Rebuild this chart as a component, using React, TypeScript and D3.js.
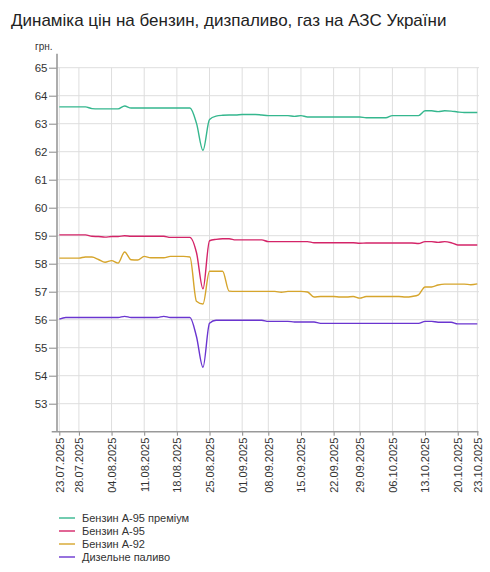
import { useEffect, useRef } from "react";
import * as d3 from "d3";

// Trading days (dd.mm), year 2025
const dates = [
  "23.07", "24.07", "25.07", "28.07", "29.07", "30.07", "31.07", "01.08",
  "04.08", "05.08", "06.08", "07.08", "08.08", "11.08", "12.08", "13.08",
  "14.08", "15.08", "18.08", "19.08", "20.08", "21.08", "22.08", "25.08",
  "26.08", "27.08", "28.08", "29.08", "01.09", "02.09", "03.09", "04.09",
  "08.09", "09.09", "10.09", "11.09", "12.09", "15.09", "16.09", "17.09",
  "18.09", "19.09", "22.09", "23.09", "24.09", "25.09", "29.09", "30.09",
  "01.10", "02.10", "03.10", "06.10", "07.10", "08.10", "09.10", "10.10",
  "13.10", "14.10", "15.10", "16.10", "17.10", "20.10", "21.10", "22.10",
  "23.10",
];

const tickDates = [
  "23.07", "28.07", "04.08", "11.08", "18.08", "25.08", "01.09", "08.09",
  "15.09", "22.09", "29.09", "06.10", "13.10", "20.10", "23.10",
];

const yTicks = [53, 54, 55, 56, 57, 58, 59, 60, 61, 62, 63, 64, 65];

const a95premium = [
  63.6, 63.6, 63.6, 63.6, 63.6, 63.54, 63.53, 63.53, 63.53, 63.53, 63.63, 63.56,
  63.56, 63.56, 63.56, 63.56, 63.56, 63.56, 63.56, 63.56, 63.56, 63.02, 62.05,
  63.15, 63.27, 63.3, 63.31, 63.31, 63.33, 63.33, 63.33, 63.31, 63.29, 63.29,
  63.29, 63.29, 63.26, 63.29, 63.24, 63.24, 63.24, 63.24, 63.24, 63.24, 63.24,
  63.24, 63.24, 63.21, 63.21, 63.21, 63.21, 63.29, 63.29, 63.29, 63.29, 63.29,
  63.46, 63.46, 63.43, 63.46, 63.45, 63.42, 63.4, 63.4, 63.4,
];

const a95 = [
  59.03, 59.03, 59.03, 59.03, 59.03, 58.98, 58.97, 58.95, 58.97, 58.97, 59.0,
  58.98, 58.98, 58.98, 58.98, 58.98, 58.98, 58.94, 58.94, 58.94, 58.94, 58.4,
  57.1, 58.82, 58.87, 58.89, 58.89, 58.85, 58.85, 58.85, 58.85, 58.85, 58.79,
  58.79, 58.79, 58.79, 58.79, 58.79, 58.79, 58.75, 58.75, 58.75, 58.75, 58.75,
  58.75, 58.75, 58.73, 58.74, 58.74, 58.74, 58.74, 58.74, 58.74, 58.74, 58.74,
  58.72, 58.79, 58.79, 58.76, 58.79, 58.75, 58.67, 58.67, 58.67, 58.67,
];

const a92 = [
  58.2, 58.2, 58.2, 58.2, 58.24, 58.24, 58.15, 58.05, 58.11, 58.02, 58.42, 58.14,
  58.13, 58.26, 58.21, 58.21, 58.21, 58.26, 58.26, 58.26, 58.24, 56.66, 56.56,
  57.73, 57.73, 57.73, 57.02, 57.01, 57.01, 57.01, 57.01, 57.01, 57.01, 57.01,
  56.98, 57.01, 57.01, 57.01, 56.99, 56.81, 56.83, 56.83, 56.83, 56.81, 56.81,
  56.83, 56.77, 56.83, 56.83, 56.83, 56.83, 56.83, 56.83, 56.81, 56.83, 56.89,
  57.17, 57.17, 57.24, 57.27, 57.27, 57.27, 57.27, 57.25, 57.28,
];

const diesel = [
  56.02, 56.08, 56.08, 56.08, 56.08, 56.08, 56.08, 56.08, 56.08, 56.08, 56.12,
  56.08, 56.08, 56.08, 56.08, 56.08, 56.12, 56.08, 56.08, 56.08, 56.08, 55.4,
  54.3, 55.87, 55.98, 55.98, 55.98, 55.98, 55.98, 55.98, 55.98, 55.98, 55.94,
  55.94, 55.94, 55.94, 55.92, 55.92, 55.92, 55.92, 55.87, 55.87, 55.87, 55.87,
  55.87, 55.87, 55.87, 55.87, 55.87, 55.87, 55.87, 55.87, 55.87, 55.87, 55.87,
  55.87, 55.94, 55.94, 55.91, 55.91, 55.91, 55.85, 55.85, 55.85, 55.85,
];

const seriesNames = ["Бензин А-95 преміум", "Бензин А-95", "Бензин А-92", "Дизельне паливо"];
const seriesColors = ["#35b78e", "#d42468", "#d6a52c", "#6a35d0"];
const seriesValues = [a95premium, a95, a92, diesel];

const W = 490;
const H = 572;
const FONT = "'Liberation Sans', Arial, sans-serif";

export default function App() {
  const svgRef = useRef<SVGSVGElement>(null);

  useEffect(() => {
    if (!svgRef.current) return;
    const svg = d3.select(svgRef.current);
    svg.selectAll("*").remove();

    const x = d3.scalePoint<string>().domain(dates).range([59.3, 477.3]);
    const y = d3.scaleLinear().domain([52, 65.5]).range([431.7, 53.7]);
    const left = 57;
    const right = 479;
    const bottom = y(52);

    // title
    svg.append("text")
      .attr("x", 11).attr("y", 26)
      .attr("font-family", FONT).attr("font-size", 17)
      .attr("fill", "#222")
      .text("Динаміка цін на бензин, дизпаливо, газ на АЗС України");

    svg.append("text")
      .attr("x", 35).attr("y", 50)
      .attr("font-family", FONT).attr("font-size", 10)
      .attr("fill", "#333")
      .text("грн.");

    // ── Grid ──
    svg.append("g")
      .selectAll("line")
      .data(yTicks)
      .join("line")
      .attr("x1", left).attr("x2", right)
      .attr("y1", (d) => y(d)).attr("y2", (d) => y(d))
      .attr("stroke", "#dedede").attr("stroke-width", 1);

    svg.append("g")
      .selectAll("line")
      .data(tickDates)
      .join("line")
      .attr("x1", (d) => x(d)!).attr("x2", (d) => x(d)!)
      .attr("y1", y(65)).attr("y2", bottom)
      .attr("stroke", "#dedede").attr("stroke-width", 1);

    // ── Y axis ──
    svg.append("g")
      .attr("transform", `translate(${left},0)`)
      .call(d3.axisLeft(y).tickValues(yTicks).tickSize(8).tickPadding(1.5).tickFormat((v) => String(v)))
      .call((ag) => ag.select(".domain").remove())
      .call((ag) => ag.selectAll(".tick line").attr("stroke", "#888"))
      .call((ag) => ag.selectAll(".tick text")
        .attr("fill", "#333").attr("font-size", 11.5).attr("font-family", FONT));

    svg.append("line")
      .attr("x1", left).attr("x2", left)
      .attr("y1", y(65.5)).attr("y2", bottom)
      .attr("stroke", "#999").attr("stroke-width", 1.6);

    // ── X axis ──
    svg.append("g")
      .attr("transform", `translate(0,${bottom})`)
      .call(d3.axisBottom(x).tickValues(tickDates).tickSize(4).tickPadding(2).tickFormat((d) => `${d}.2025`))
      .call((ag) => ag.select(".domain").remove())
      .call((ag) => ag.selectAll(".tick line").attr("stroke", "#888"))
      .call((ag) => ag.selectAll(".tick text")
        .attr("fill", "#333").attr("font-size", 11).attr("font-family", FONT)
        .attr("transform", "rotate(-90)")
        .attr("text-anchor", "end")
        .attr("x", -6).attr("y", 0).attr("dy", "0.35em"));

    svg.append("line")
      .attr("x1", 51.7).attr("x2", 478.5)
      .attr("y1", bottom).attr("y2", bottom)
      .attr("stroke", "#999").attr("stroke-width", 1.4);

    // ── Lines ──
    const line = d3.line<number>()
      .x((_, i) => x(dates[i])!)
      .y((d) => y(d))
      .curve(d3.curveMonotoneX);

    seriesValues.forEach((vals, k) => {
      svg.append("path")
        .datum(vals)
        .attr("fill", "none")
        .attr("stroke", seriesColors[k])
        .attr("stroke-width", 1.4)
        .attr("d", line);
    });

    // ── Legend ──
    const legend = svg.append("g").attr("transform", "translate(59,518)");
    seriesNames.forEach((name, k) => {
      const row = legend.append("g").attr("transform", `translate(0,${k * 13})`);
      row.append("line")
        .attr("x1", 0).attr("x2", 16)
        .attr("stroke", seriesColors[k]).attr("stroke-width", 1.4);
      row.append("text")
        .attr("x", 23).attr("y", 0).attr("dy", "0.35em")
        .attr("font-family", FONT).attr("font-size", 11)
        .attr("fill", "#333")
        .text(name);
    });
  }, []);

  return (
    <div style={{ position: "absolute", left: 0, top: 0, background: "#fff" }}>
      <svg ref={svgRef} width={W} height={H} style={{ display: "block" }} />
    </div>
  );
}
